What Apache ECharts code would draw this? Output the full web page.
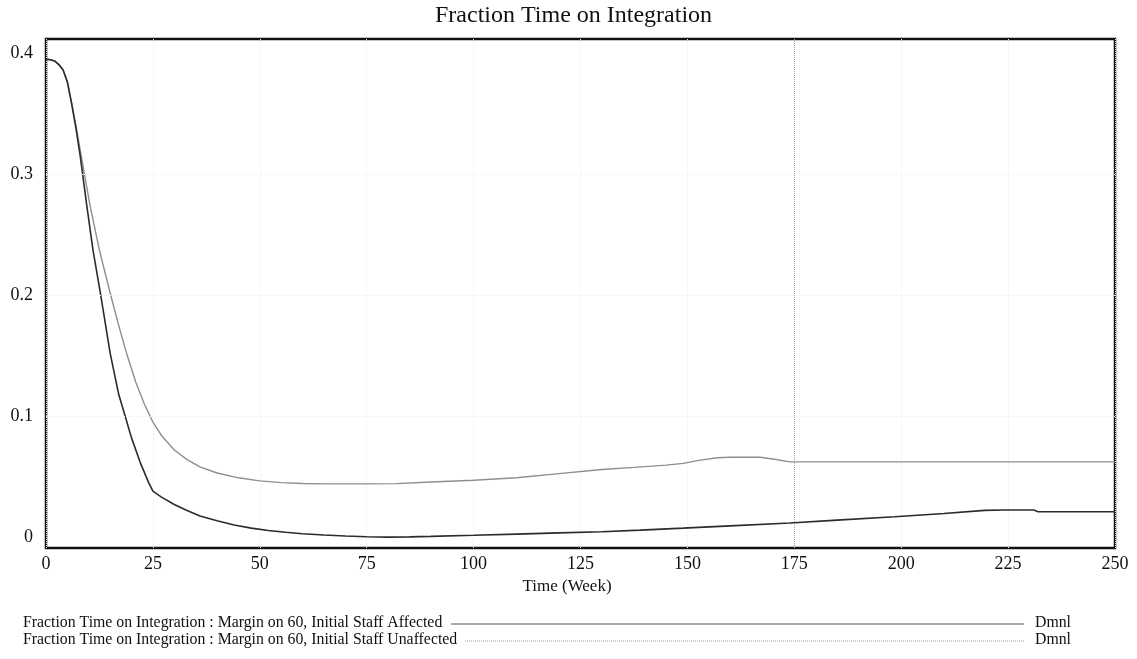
<!DOCTYPE html>
<html>
<head>
<meta charset="utf-8">
<title>Fraction Time on Integration</title>
<script src="https://cdn.jsdelivr.net/npm/echarts@6/dist/echarts.min.js"></script>
<style>
  html, body { margin: 0; padding: 0; background: #fff; }
  #chart { width: 1137px; height: 659px; }
</style>
</head>
<body>
<div id="chart"></div>
<script>
// Simulation output: [week, fraction]
const staffAffected = [
  [0,0.395],[1,0.3945],[2,0.3935],[3,0.3905],[4,0.386],[5,0.376],[6,0.358],[7,0.338],
  [8,0.315],[9.5,0.275],[11,0.237],[12.8,0.200],[15,0.152],[17,0.118],[18.5,0.100],
  [20,0.082],[22,0.062],[24,0.045],[25,0.038],[27,0.033],[30,0.027],[33,0.022],
  [36,0.0174],[40,0.0135],[44,0.010],[48,0.0074],[52,0.0055],[56,0.004],[60,0.0028],
  [65,0.0017],[70,0.0009],[75,0.0003],[80,0.0],[85,0.0002],[90,0.0006],[100,0.0015],
  [110,0.0025],[120,0.0035],[130,0.0044],[139,0.0058],[149,0.0074],[160,0.0093],
  [174,0.0116],[185,0.014],[198.5,0.0168],[210,0.0195],[219.5,0.0221],[224,0.0224],
  [231,0.0224],[232,0.021],[250,0.021]
];
const staffUnaffected = [
  [0,0.395],[1,0.3945],[2,0.3935],[3,0.3905],[4,0.386],[5,0.376],[6,0.359],[7,0.340],
  [8,0.320],[9,0.300],[10.3,0.274],[12.5,0.237],[15,0.2017],[17,0.175],[19,0.150],
  [21,0.128],[23,0.11],[25,0.095],[27,0.084],[30,0.072],[33,0.064],[36,0.058],
  [40,0.053],[45,0.049],[50,0.0465],[55,0.045],[60,0.0443],[65,0.044],[75,0.044],
  [82,0.0442],[90,0.0455],[100,0.047],[110,0.049],[120,0.0525],[130,0.0559],
  [137.5,0.0576],[145,0.0595],[149,0.0609],[153,0.0636],[157,0.0656],[160,0.066],
  [167,0.066],[170,0.0645],[174,0.0622],[250,0.0622]
];
const yTickValues = [0, 0.1, 0.2, 0.3, 0.4];
const legendLabels = [
  'Fraction Time on Integration : Margin on 60, Initial Staff Affected',
  'Fraction Time on Integration : Margin on 60, Initial Staff Unaffected'
];
const unitLabel = 'Dmnl';

const serif = '"Liberation Serif", "DejaVu Serif", serif';
const chart = echarts.init(document.getElementById('chart'));

chart.setOption({
  backgroundColor: '#ffffff',
  animation: false,
  title: {
    text: 'Fraction Time on Integration',
    left: 430,
    top: -1,
    textStyle: { fontFamily: serif, fontSize: 24, fontWeight: 'normal', color: '#111' }
  },
  grid: {
    left: 46, top: 39, width: 1069, height: 509,
    show: true, borderColor: '#111', borderWidth: 2.5, backgroundColor: 'transparent'
  },
  xAxis: {
    type: 'value', min: 0, max: 250, interval: 25,
    name: 'Time (Week)', nameLocation: 'middle', nameGap: 28,
    nameTextStyle: { fontFamily: serif, fontSize: 17, color: '#111', padding: [0, 27, 0, 0] },
    axisLine: { show: false }, axisTick: { show: false },
    axisLabel: { fontFamily: serif, fontSize: 18, color: '#111', margin: 7 },
    splitLine: { show: true, lineStyle: { color: '#eeeeee', type: 'dotted', width: 1 } }
  },
  yAxis: {
    type: 'value', min: -0.009, max: 0.4116,
    axisLine: { show: false }, axisTick: { show: false },
    splitLine: { show: false },
    axisLabel: {
      customValues: yTickValues,
      fontFamily: serif, fontSize: 18, color: '#111', margin: 13,
      formatter: v => (v === 0 ? '0' : String(+v.toFixed(1)))
    }
  },
  series: [
    {
      name: legendLabels[1], type: 'line', data: staffUnaffected,
      showSymbol: false, smooth: false,
      lineStyle: { color: '#8e8e8e', width: 1.4 },
      markLine: {
        silent: true, symbol: 'none', label: { show: false },
        lineStyle: { color: '#f0f0f0', type: 'dotted', width: 1 },
        data: yTickValues.filter(v => v > 0 && v < 0.4).map(v => ({ yAxis: v }))
      },
      z: 2
    },
    {
      name: legendLabels[0], type: 'line', data: staffAffected,
      showSymbol: false, smooth: false,
      lineStyle: { color: '#2b2b2b', width: 1.6 },
      markLine: {
        silent: true, symbol: 'none', label: { show: false },
        lineStyle: { color: '#a0a0a0', type: 'dotted', width: 1 },
        data: [{ xAxis: 175 }]
      },
      z: 3
    }
  ],
  graphic: [
    { type: 'text', left: 23, top: 615,
      style: { text: legendLabels[0], font: '15.8px ' + serif, fill: '#111' } },
    { type: 'line', shape: { x1: 451, y1: 624, x2: 1024, y2: 624 },
      style: { stroke: '#555', lineWidth: 1 } },
    { type: 'text', left: 1035, top: 615,
      style: { text: unitLabel, font: '15.8px ' + serif, fill: '#111' } },
    { type: 'text', left: 23, top: 632,
      style: { text: legendLabels[1], font: '15.8px ' + serif, fill: '#111' } },
    { type: 'line', shape: { x1: 465, y1: 641, x2: 1024, y2: 641 },
      style: { stroke: '#999', lineWidth: 1, lineDash: [1, 1] } },
    { type: 'text', left: 1035, top: 632,
      style: { text: unitLabel, font: '15.8px ' + serif, fill: '#111' } }
  ]
});
</script>
</body>
</html>
